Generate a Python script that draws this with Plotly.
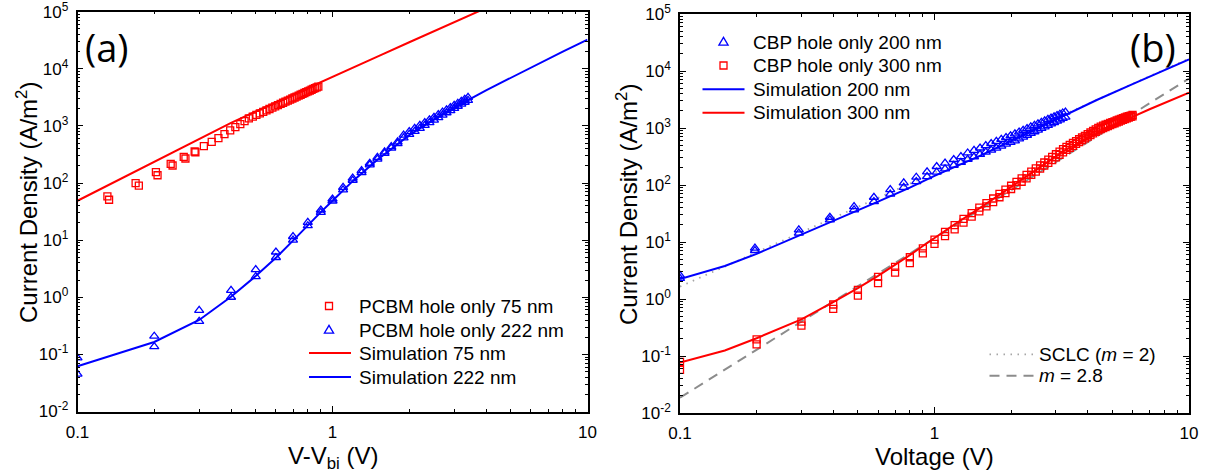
import plotly.graph_objects as go

# ---------------- data ----------------
# (a) PCBM hole-only devices, J vs V - Vbi
pcbm75_v = [0.131, 0.133, 0.169, 0.174, 0.203, 0.206, 0.232, 0.236, 0.261, 0.265,
            0.288, 0.290, 0.313, 0.336, 0.357, 0.377, 0.397, 0.416, 0.435, 0.452,
            0.470, 0.487, 0.503, 0.519, 0.535, 0.551, 0.566, 0.581, 0.596, 0.611,
            0.626, 0.640, 0.654, 0.668, 0.682, 0.696, 0.710, 0.723, 0.737, 0.750,
            0.763, 0.776, 0.789, 0.802, 0.815, 0.828, 0.841, 0.854, 0.867, 0.880]
pcbm75_j = [58.6, 51, 100, 90, 155, 137, 217, 203, 288, 269,
            357, 346, 442, 526, 611, 718, 833, 952, 1075, 1215,
            1355, 1457, 1556, 1659, 1765, 1874, 1980, 2088, 2200, 2314,
            2432, 2544, 2659, 2776, 2896, 3019, 3144, 3262, 3393, 3516,
            3641, 3769, 3898, 4031, 4165, 4301, 4441, 4582, 4725, 4871]

pcbm222_v = [0.1, 0.2, 0.3, 0.4, 0.5, 0.6, 0.7, 0.8, 0.9, 1.0,
             1.1, 1.2, 1.3, 1.4, 1.5, 1.6, 1.7, 1.8, 1.9, 2.0,
             2.1, 2.2, 2.3, 2.4, 2.5, 2.6, 2.7, 2.8, 2.9, 3.0,
             3.1, 3.2, 3.3, 3.4]
pcbm222_j_up = [0.087, 0.208, 0.59, 1.32, 3.05, 6.2, 11.6, 20.5, 33.7, 52.6,
                84, 122, 165, 222, 282, 352, 435, 525, 690, 795,
                905, 1020, 1145, 1280, 1420, 1575, 1740, 1910, 2095, 2290,
                2490, 2700, 2930, 3160]
pcbm222_j_dn = [0.045, 0.137, 0.378, 1.0, 2.3, 4.97, 10, 17.9, 30.6, 48.5,
                76, 112, 152, 208, 263, 330, 410, 490, 620, 710,
                805, 905, 1020, 1140, 1265, 1400, 1545, 1700, 1860, 2030,
                2210, 2400, 2600, 2810]

sim75_v = [0.1, 0.2, 0.3, 0.4, 0.5, 0.7, 1.0, 1.5, 2.0, 3.0, 4.0]
sim75_j = [49, 235, 600, 1130, 1790, 3560, 7300, 16400, 29200, 65500, 116000]

sim222_v = [0.1, 0.2, 0.3, 0.4, 0.5, 0.6, 0.7, 0.8, 0.9, 1.0,
            1.2, 1.5, 2.0, 2.5, 3.0, 4.0, 5.0, 6.0, 8.0, 10.0]
sim222_j = [0.062, 0.165, 0.40, 1.02, 2.35, 4.9, 9.8, 18.5, 31, 49,
            108, 255, 690, 1290, 2090, 4200, 7000, 10400, 20000, 32500]

# (b) CBP hole-only devices, J vs V
cbp200_v = [0.1, 0.197, 0.293, 0.388, 0.483, 0.578, 0.670, 0.757, 0.848, 0.935,
            1.02, 1.10, 1.19, 1.27, 1.35, 1.43, 1.51, 1.59, 1.67, 1.75,
            1.83, 1.91, 1.99, 2.07, 2.15, 2.23, 2.31, 2.39, 2.47, 2.55,
            2.63, 2.71, 2.79, 2.87, 2.95, 3.03, 3.11, 3.19, 3.27]
cbp200_j_up = [2.6, 7.8, 16.3, 27.2, 41.9, 61, 83, 109, 137, 170,
               211, 242, 280, 315, 365, 405, 446, 490, 535, 582,
               631, 681, 731, 790, 850, 913, 978, 1045, 1114, 1185,
               1259, 1335, 1413, 1493, 1575, 1659, 1746, 1835, 1905]
cbp200_j_dn = [2.3, 7.1, 14.3, 24.4, 36.6, 51, 69, 91, 115, 140,
               168, 192, 222, 249, 283, 313, 344, 377, 410, 445,
               482, 520, 558, 593, 642, 693, 746, 802, 859, 919,
               981, 1043, 1109, 1177, 1248, 1319, 1393, 1470, 1549]

cbp300_v = [0.1, 0.2, 0.3, 0.4, 0.5, 0.6, 0.7, 0.8, 0.9, 1.0,
            1.1, 1.2, 1.3, 1.4, 1.5, 1.6, 1.7, 1.8, 1.9, 2.0,
            2.1, 2.2, 2.3, 2.4, 2.5, 2.6, 2.7, 2.8, 2.9, 3.0,
            3.1, 3.2, 3.3, 3.4, 3.5, 3.6, 3.7, 3.8, 3.9, 4.0,
            4.1, 4.2, 4.3, 4.4, 4.5, 4.6, 4.7, 4.8, 4.9, 5.0,
            5.1, 5.2, 5.3, 5.4, 5.5, 5.6, 5.7, 5.8, 5.9, 6.0]
cbp300_j_up = [0.079, 0.196, 0.40, 0.80, 1.45, 2.45, 3.65, 5.4, 7.7, 11.0,
               15.0, 19.8, 25.5, 32, 40, 48, 58, 70, 83, 97,
               113, 131, 150, 172, 195, 221, 248, 279, 311, 346,
               384, 425, 468, 507, 547, 590, 635, 681, 730, 781,
               834, 889, 946, 1006, 1060, 1100, 1140, 1180, 1225, 1270,
               1310, 1355, 1395, 1440, 1485, 1530, 1575, 1615, 1655, 1695]
cbp300_j_dn = [0.057, 0.160, 0.34, 0.67, 1.15, 1.9, 2.9, 4.25, 6.3, 9.3,
               12.7, 16.7, 21.8, 27.8, 34.5, 42, 50, 61, 72, 85,
               99, 114, 131, 151, 171, 194, 218, 245, 274, 305,
               339, 375, 413, 450, 487, 527, 568, 611, 656, 703,
               752, 803, 855, 910, 960, 1000, 1042, 1083, 1125, 1170,
               1212, 1255, 1298, 1342, 1386, 1430, 1475, 1520, 1562, 1605]

sim200_v = [0.1, 0.15, 0.2, 0.3, 0.4, 0.5, 0.6, 0.8, 1.0, 1.5, 2.0, 3.0, 4.34, 6.0, 8.0, 10.0]
sim200_j = [2.25, 3.8, 6.2, 13.5, 23, 35, 51, 90, 145, 320, 590, 1380, 3100, 5900, 10300, 16000]

sim300_v = [0.1, 0.15, 0.2, 0.3, 0.4, 0.5, 0.6, 0.7, 0.8, 0.9, 1.0, 1.2,
            1.5, 2.0, 2.5, 3.0, 3.3, 4.0, 5.0, 6.0, 7.0, 8.5, 10.0]
sim300_j = [0.077, 0.125, 0.205, 0.44, 0.88, 1.55, 2.55, 3.95, 5.9, 8.5, 11.8, 20.5,
            39, 92, 180, 310, 420, 660, 1080, 1570, 2130, 3060, 4180]

# power-law guides J ~ V^m
sclc2_v = [0.1, 10.0]
sclc2_j = [1.65, 16500]
m28_v = [0.1, 10.0]
m28_j = [0.0185, 7365]

# axis ticks
x_tickvals = [0.1, 1, 10]
x_ticktext = ["0.1", "1", "10"]
y_tickvals = [1e-2, 1e-1, 1e0, 1e1, 1e2, 1e3, 1e4, 1e5]
y_ticktext = ["10<sup>-2</sup>", "10<sup>-1</sup>", "10<sup>0</sup>", "10<sup>1</sup>",
              "10<sup>2</sup>", "10<sup>3</sup>", "10<sup>4</sup>", "10<sup>5</sup>"]

# ---------------- styling ----------------
W, H = 1212, 474
RED = "#ff0000"
BLUE = "#0000ff"
GREY_DASH = "#8c8c8c"
GREY_DOT = "#a6a6a6"
FONT = "Liberation Sans, Arial, sans-serif"


def fx(px):
    return px / W


def fy(py):
    return 1 - py / H


fig = go.Figure()


def sq(x, y, xa, ya):
    fig.add_trace(go.Scatter(x=x, y=y, xaxis=xa, yaxis=ya, mode="markers", showlegend=False,
                             marker=dict(symbol="square-open", size=7, color=RED,
                                         line=dict(width=1.3, color=RED))))


def tri(x, y, xa, ya):
    fig.add_trace(go.Scatter(x=x, y=y, xaxis=xa, yaxis=ya, mode="markers", showlegend=False,
                             marker=dict(symbol="triangle-up-open", size=8, color=BLUE,
                                         line=dict(width=1.3, color=BLUE))))


def curve(x, y, xa, ya, color, dash="solid", width=2):
    fig.add_trace(go.Scatter(x=x, y=y, xaxis=xa, yaxis=ya, mode="lines", showlegend=False,
                             line=dict(color=color, width=width, dash=dash)))


# panel (a)
sq(pcbm75_v, pcbm75_j, "x", "y")
tri(pcbm222_v, pcbm222_j_up, "x", "y")
tri(pcbm222_v, pcbm222_j_dn, "x", "y")
curve(sim75_v, sim75_j, "x", "y", RED)
curve(sim222_v, sim222_j, "x", "y", BLUE)

# panel (b)
curve(sclc2_v, sclc2_j, "x2", "y2", GREY_DOT, dash="1.5px,5.5px", width=1.8)
curve(m28_v, m28_j, "x2", "y2", GREY_DASH, dash="10px,7px", width=2)
tri(cbp200_v, cbp200_j_up, "x2", "y2")
tri(cbp200_v, cbp200_j_dn, "x2", "y2")
sq(cbp300_v, cbp300_j_up, "x2", "y2")
sq(cbp300_v, cbp300_j_dn, "x2", "y2")
curve(sim200_v, sim200_j, "x2", "y2", BLUE)
curve(sim300_v, sim300_j, "x2", "y2", RED)

tickfont = dict(family=FONT, size=17, color="black")
minor = dict(ticks="inside", ticklen=3, tickwidth=1, tickcolor="black", showgrid=False, dtick="D1")


def xaxis(domain, anchor):
    return dict(type="log", range=[-1, 1], domain=domain, anchor=anchor, automargin=False,
                showline=True, linecolor="black", linewidth=1.5, mirror="allticks",
                ticks="inside", ticklen=6, tickwidth=1, tickcolor="black", showgrid=False,
                zeroline=False, tickmode="array", tickvals=x_tickvals, ticktext=x_ticktext,
                tickfont=tickfont, minor=minor, ticklabelstandoff=4,
                ticklabeloverflow="allow")


def yaxis(domain, anchor):
    return dict(type="log", range=[-2, 5], domain=domain, anchor=anchor, automargin=False,
                showline=True, linecolor="black", linewidth=1.5, mirror="allticks",
                ticks="inside", ticklen=6, tickwidth=1, tickcolor="black", showgrid=False,
                zeroline=False, tickmode="array", tickvals=y_tickvals, ticktext=y_ticktext,
                tickfont=tickfont, minor=minor, ticklabelstandoff=4,
                ticklabeloverflow="allow")


x1 = [fx(77.5), fx(587.5)]
y1 = [fy(411.5), fy(11.7)]
x2 = [fx(680), fx(1189)]
y2 = [fy(413), fy(14)]

ann = []
shapes = []


def text(x, y, s, size=19, anchor="left", angle=0, family=FONT):
    ann.append(dict(x=x, y=y, xref="paper", yref="paper", text=s, showarrow=False,
                    xanchor=anchor, yanchor="middle", textangle=angle,
                    font=dict(family=family, size=size, color="black")))


def key_line(x0, x1_, y, color, dash="solid", width=2):
    shapes.append(dict(type="line", xref="paper", yref="paper", x0=fx(x0), x1=fx(x1_),
                       y0=fy(y), y1=fy(y), line=dict(color=color, width=width, dash=dash)))


def key_square(x, y):
    shapes.append(dict(type="rect", xref="paper", yref="paper", xsizemode="pixel",
                       ysizemode="pixel", xanchor=fx(x), yanchor=fy(y), x0=-3.5, x1=3.5,
                       y0=-3.5, y1=3.5, line=dict(color=RED, width=1.3)))


def key_triangle(x, y):
    shapes.append(dict(type="path", xref="paper", yref="paper", xsizemode="pixel",
                       ysizemode="pixel", xanchor=fx(x), yanchor=fy(y),
                       path="M-4.6,-3.2 L4.6,-3.2 L0,4.6 Z", line=dict(color=BLUE, width=1.3)))


# legend of panel (a)
key_square(329, 306)
text(fx(357), fy(306), "PCBM hole only 75 nm")
key_triangle(329, 330)
text(fx(357), fy(330), "PCBM hole only 222 nm")
key_line(309, 351, 353, RED)
text(fx(357), fy(353), "Simulation 75 nm")
key_line(309, 351, 377, BLUE)
text(fx(357), fy(377), "Simulation 222 nm")

# legend of panel (b)
key_triangle(723.5, 42)
text(fx(751), fy(42), "CBP hole only 200 nm")
key_square(723.5, 65.5)
text(fx(751), fy(65.5), "CBP hole only 300 nm")
key_line(702.5, 744.5, 89.3, BLUE)
text(fx(751), fy(89.3), "Simulation 200 nm")
key_line(702.5, 744.5, 112.7, RED)
text(fx(751), fy(112.7), "Simulation 300 nm")

key_line(989.5, 1033.5, 354.3, GREY_DOT, dash="1.5px,5.5px", width=1.8)
text(fx(1036.5), fy(354.3), "SCLC (<i>m</i> = 2)")
key_line(989.5, 1033.5, 375.7, GREY_DASH, dash="10px,7px", width=2)
text(fx(1036.5), fy(375.7), "<i>m</i> = 2.8")

# panel labels
text(fx(107), fy(47), "(a)", size=38, anchor="center", family="Open Sans, Lato, sans-serif")
text(fx(1153), fy(47), "(b)", size=38, anchor="center", family="Open Sans, Lato, sans-serif")

# axis titles
text(fx(333), fy(457), "V-V<sub>bi</sub> (V)", size=24, anchor="center")
text(fx(934.5), fy(456), "Voltage (V)", size=24, anchor="center")
text(fx(27), fy(203), "Current Density (A/m<sup>2</sup>)", size=24, anchor="center", angle=-90)
text(fx(627), fy(205), "Current Density (A/m<sup>2</sup>)", size=24, anchor="center", angle=-90)

fig.update_layout(
    template="none",
    width=W, height=H,
    margin=dict(l=0, r=0, t=0, b=0, autoexpand=False),
    paper_bgcolor="white", plot_bgcolor="white",
    showlegend=False,
    font=dict(family=FONT, color="black"),
    xaxis=xaxis(x1, "y"), yaxis=yaxis(y1, "x"),
    xaxis2=xaxis(x2, "y2"), yaxis2=yaxis(y2, "x2"),
    annotations=ann, shapes=shapes,
)

fig.write_html("out.html")
